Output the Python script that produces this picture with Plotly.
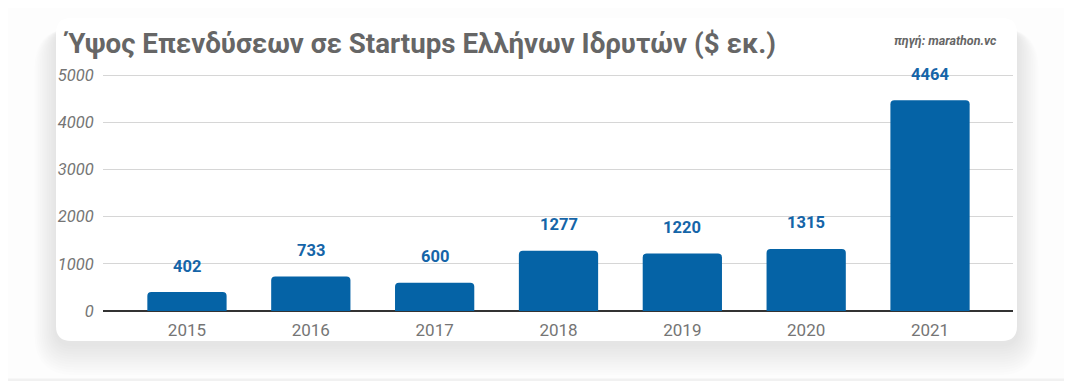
import plotly.graph_objects as go

years = ["2015", "2016", "2017", "2018", "2019", "2020", "2021"]
values = [402, 733, 600, 1277, 1220, 1315, 4464]
y_ticks = [0, 1000, 2000, 3000, 4000, 5000]
title_text = "Ύψος Επενδύσεων σε Startups Ελλήνων Ιδρυτών ($ εκ.)"
source_text = "πηγή: marathon.vc"

OFF = 8  # page body margin
SW, SH = 1072, 381
W, H = SW - OFF, SH - OFF
# plot area in screen pixels
PX0, PX1, PY0, PY1 = 103, 1013, 70, 311
L, R, T = PX0 - OFF, W - (PX1 - OFF), PY0 - OFF
B = H - (PY1 - OFF)
PW, PH = PX1 - PX0, PY1 - PY0


def px(x):
    return (x - PX0) / PW


def py(y):
    return (PY1 - y) / PH


def rrect(x0, y0, x1, y1, r):
    pts = [
        ("M", [(x0 + r, y0)]),
        ("L", [(x1 - r, y0)]),
        ("Q", [(x1, y0), (x1, y0 + r)]),
        ("L", [(x1, y1 - r)]),
        ("Q", [(x1, y1), (x1 - r, y1)]),
        ("L", [(x0 + r, y1)]),
        ("Q", [(x0, y1), (x0, y1 - r)]),
        ("L", [(x0, y0 + r)]),
        ("Q", [(x0, y0), (x0 + r, y0)]),
    ]
    s = ""
    for cmd, ps in pts:
        s += cmd + " " + " ".join(f"{px(a):.5f},{py(b):.5f}" for a, b in ps) + " "
    return s + "Z"


shapes = []
# soft shadow layers
for i in range(12, 0, -1):
    shapes.append(dict(
        type="path", xref="paper", yref="paper", layer="below",
        path=rrect(56 - i * 1.8, 18 + 10, 1017 + i * 1.8, 341 + i * 2.6 + 3, 16 + i * 2),
        fillcolor="rgba(0,0,0,0.008)", line=dict(width=0),
    ))
# card
shapes.append(dict(
    type="path", xref="paper", yref="paper", layer="below",
    path=rrect(56, 18, 1017, 341, 15),
    fillcolor="white", line=dict(width=0),
))
# bottom faint strip
shapes.append(dict(
    type="rect", xref="paper", yref="paper", layer="below",
    x0=px(0), x1=px(SW), y0=py(SH), y1=py(378.5),
    fillcolor="#f1f1f1", line=dict(width=0),
))

fig = go.Figure()
fig.add_trace(go.Bar(
    x=list(range(len(years))), y=values,
    marker=dict(color="#0563a6", line=dict(width=0)),
    width=0.64, hoverinfo="skip",
))

annotations = []
for i, v in enumerate(values):
    annotations.append(dict(
        x=i, y=v, xref="x", yref="y", text=f"<b>{v}</b>", showarrow=False,
        yanchor="middle", yshift=26,
        font=dict(family="Roboto", size=16.5, color="#1565a8"),
    ))
annotations.append(dict(
    x=px(61), y=py(44), xref="paper", yref="paper", xanchor="left", yanchor="middle",
    text=f"<b>{title_text}</b>", showarrow=False,
    font=dict(family="Roboto", size=27.7, color="#666666"),
))
annotations.append(dict(
    x=px(999), y=py(40), xref="paper", yref="paper", xanchor="right", yanchor="middle",
    text=f"<b><i>{source_text}</i></b>", showarrow=False,
    font=dict(family="Roboto", size=12.5, color="#666666"),
))

fig.update_layout(
    width=W, height=H,
    margin=dict(l=L, r=R, t=T, b=B, pad=0),
    paper_bgcolor="#fdfdfd", plot_bgcolor="rgba(0,0,0,0)",
    showlegend=False,
    barcornerradius=4,
    shapes=shapes, annotations=annotations,
    xaxis=dict(
        range=[-0.678, 6.67], tickvals=list(range(len(years))), ticktext=years,
        showgrid=False, zeroline=False, showline=False,
        ticks="outside", ticklen=4, tickcolor="rgba(0,0,0,0)",
        tickfont=dict(family="Roboto", size=17, color="#757575"),
        fixedrange=True,
    ),
    yaxis=dict(
        range=[0, 5000 * (PY1 - PY0) / (PY1 - 75)], tickvals=y_ticks,
        showgrid=True, gridcolor="#d6d6d6", gridwidth=1,
        zeroline=True, zerolinecolor="#333333", zerolinewidth=1.5,
        showline=False,
        ticks="outside", ticklen=5, tickcolor="rgba(0,0,0,0)",
        tickfont=dict(family="Roboto", size=16.5, color="#757575", style="italic"),
        fixedrange=True,
    ),
)

fig.write_html("out.html")
